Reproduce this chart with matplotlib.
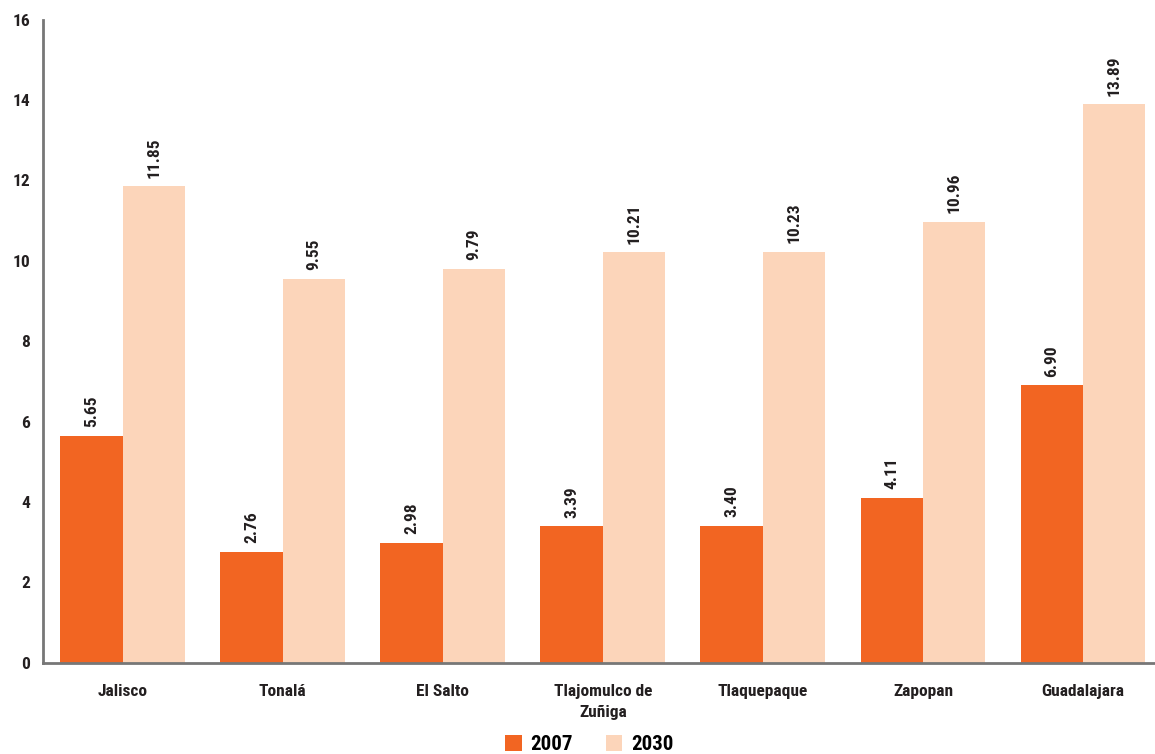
import matplotlib
matplotlib.use('Agg')
import matplotlib.pyplot as plt
import numpy as np

# 데이터
categories = ['Jalisco', 'Tonalá', 'El Salto', 'Tlajomulco de\nZuñiga',
              'Tlaquepaque', 'Zapopan', 'Guadalajara']
values_2007 = [5.65, 2.76, 2.98, 3.39, 3.40, 4.11, 6.90]
values_2030 = [11.85, 9.55, 9.79, 10.21, 10.23, 10.96, 13.89]
series_names = ['2007', '2030']

plt.rcParams['font.family'] = ['Roboto Condensed', 'Roboto', 'DejaVu Sans']

fig = plt.figure(figsize=(11.55, 7.54), dpi=100)
ax = fig.add_axes([0.037, 0.121, 0.963, 0.853])

x = np.arange(len(categories))
w = 0.39
b1 = ax.bar(x - w / 2, values_2007, w, color='#F26522', label=series_names[0])
b2 = ax.bar(x + w / 2, values_2030, w, color='#FCD5BA', label=series_names[1])

# 막대 위 값 표시 (세로)
for bars, vals in ((b1, values_2007), (b2, values_2030)):
    for rect, v in zip(bars, vals):
        ax.text(rect.get_x() + rect.get_width() / 2, v + 0.22, f'{v:.2f}',
                rotation=90, ha='center', va='bottom',
                fontsize=12.5, fontweight='bold', color='#231F20')

ax.set_ylim(0, 16)
ax.set_xlim(-0.5, 6.45)
ax.set_yticks(range(0, 17, 2))
ax.set_xticks(x)
ax.set_xticklabels(categories, linespacing=1.5)
ax.tick_params(axis='both', length=0, labelsize=12.5, colors='#231F20')
ax.tick_params(axis='y', pad=9)
ax.tick_params(axis='x', pad=15)
for lbl in ax.get_xticklabels() + ax.get_yticklabels():
    lbl.set_fontweight('bold')

for s in ['top', 'right']:
    ax.spines[s].set_visible(False)
for s in ['left', 'bottom']:
    ax.spines[s].set_color('#777777')
    ax.spines[s].set_linewidth(2)

leg = fig.legend(loc='lower center', bbox_to_anchor=(0.51, -0.025), ncol=2,
                 frameon=False, handlelength=0.8, handleheight=0.8,
                 handletextpad=0.4, columnspacing=1.6,
                 prop={'size': 15, 'weight': 'bold'})

fig.savefig('out.png', dpi=100)
